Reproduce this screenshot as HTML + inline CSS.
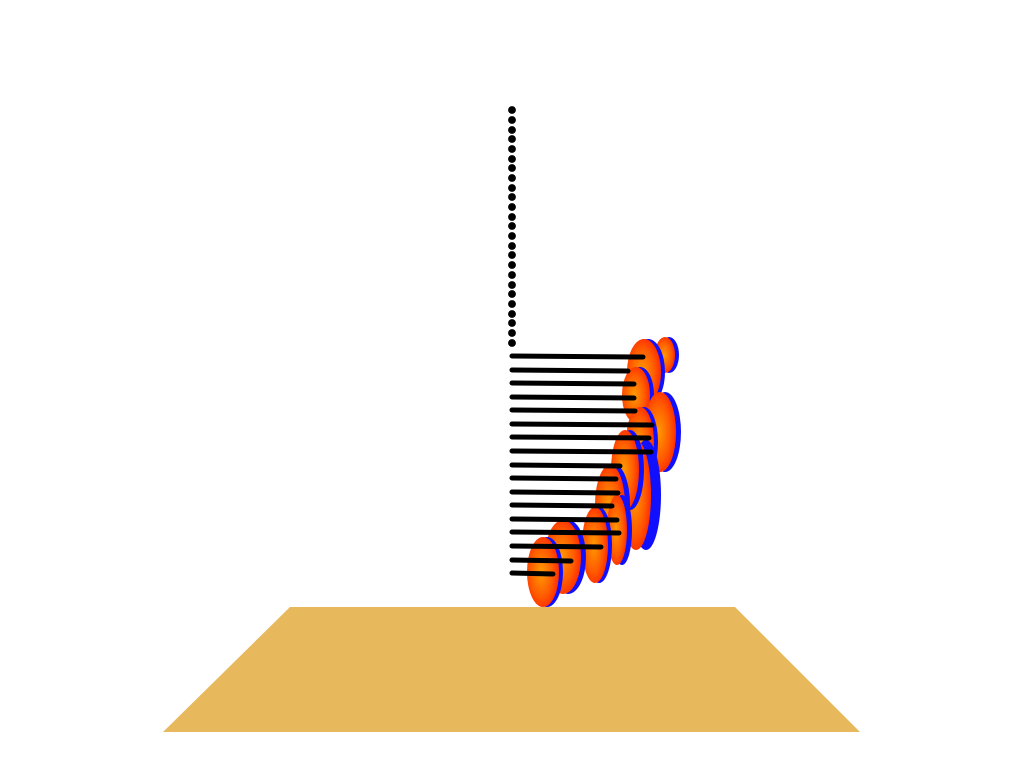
<!DOCTYPE html>
<html><head><meta charset="utf-8"><style>html,body{margin:0;padding:0;background:#fff;width:1024px;height:768px;overflow:hidden}</style></head>
<body>
<svg id="scene" width="1024" height="768" viewBox="0 0 1024 768" xmlns="http://www.w3.org/2000/svg">
<defs>
<radialGradient id="discGrad" cx="0.45" cy="0.5" r="0.6">
<stop offset="0" stop-color="#ff9a00"/><stop offset="0.6" stop-color="#ff5a00"/><stop offset="1" stop-color="#ff2000"/>
</radialGradient>
</defs>
<polygon points="290,607 735,607 860,732 163,732" fill="#e8b95c"/>
<g id="dots"></g><g id="discs"></g><g id="rods"></g>
</svg>
<script>
// data
const dotY = [110,120,130,139,149,159,168,178,188,197,207,217,226,236,246,255,265,275,285,294,304,314,323,333,343];
const rodY = [356,370,383,397,410,424,437,451,465,478,492,505,519,532,546,560,573];
const rodEnd = [643,628,634,634,635,652,649,651,620,616,618,612,617,619,601,571,553];
const discX = [665,644,636,660,640,636,625,610,617,595,563,543];
const discY = [355,372,395,432,442,495,470,505,530,545,557,572];
const discRX = [10,17,14,16,14,15,14,15,10,13,18,16];
const discRY = [18,33,28,40,35,55,40,40,35,38,37,35];
const discRim = [4,4,4,5,4,10,5,5,5,4,5,4];
const NS='http://www.w3.org/2000/svg';
const dg=document.getElementById('dots'), rg=document.getElementById('rods'), cg=document.getElementById('discs');
dotY.forEach(y=>{const c=document.createElementNS(NS,'circle');


c.setAttribute('cx',512);c.setAttribute('cy',y);c.setAttribute('r',3.9);c.setAttribute('fill','#000');dg.appendChild(c);});
rodY.forEach((y,i)=>{const l=document.createElementNS(NS,'line');


l.setAttribute('x1',512);l.setAttribute('y1',y);l.setAttribute('x2',rodEnd[i]);l.setAttribute('y2',y+1);
l.setAttribute('stroke','#000');l.setAttribute('stroke-width',5);l.setAttribute('stroke-linecap','round');rg.appendChild(l);});
discX.forEach((x,i)=>{
const g=document.createElementNS(NS,'g');


const b=document.createElementNS(NS,'ellipse');
b.setAttribute('cx',x+discRim[i]);b.setAttribute('cy',discY[i]);b.setAttribute('rx',discRX[i]);b.setAttribute('ry',discRY[i]);b.setAttribute('fill','#1010ff');
const f=document.createElementNS(NS,'ellipse');
f.setAttribute('cx',x);f.setAttribute('cy',discY[i]);f.setAttribute('rx',discRX[i]);f.setAttribute('ry',discRY[i]);f.setAttribute('fill','url(#discGrad)');
g.appendChild(b);g.appendChild(f);cg.appendChild(g);});
</script>
</body></html>
